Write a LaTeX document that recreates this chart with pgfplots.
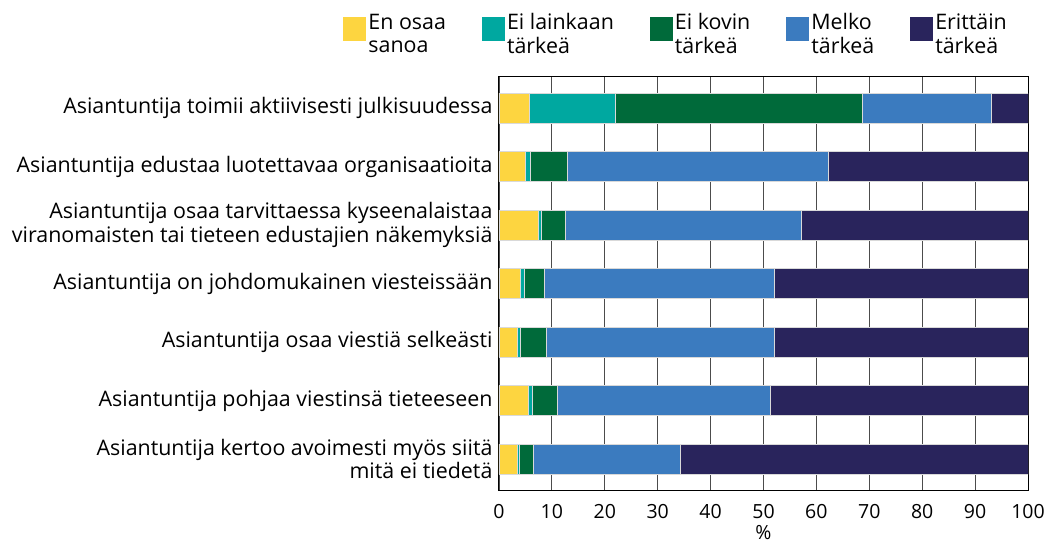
\documentclass[border=0pt]{standalone}
\usepackage{fontspec}
\setmainfont{Open Sans}
\usepackage{pgfplots}
\pgfplotsset{compat=1.18}
\definecolor{cyel}{HTML}{FDD540}
\definecolor{cteal}{HTML}{00A8A0}
\definecolor{cgreen}{HTML}{006A3A}
\definecolor{cblue}{HTML}{3B7BBF}
\definecolor{cnavy}{HTML}{29245C}
\def\lblfont{\fontsize{21.4}{23.5}\selectfont}
\def\tckfont{\fontsize{19.5}{22}\selectfont}
\def\legfont{\fontsize{21.4}{23.5}\selectfont}

\begin{document}
\begin{tikzpicture}
\begin{axis}[
  name=ax,
  scale only axis, width=529pt, height=413pt,
  xbar stacked, bar width=30pt,
  xmin=0, xmax=100, ymin=0.47, ymax=7.53, y dir=reverse,
  xtick={0,10,...,100}, ytick={1,...,7},
  yticklabels={%
    {Asiantuntija toimii aktiivisesti julkisuudessa},%
    {Asiantuntija edustaa luotettavaa organisaatioita},%
    {Asiantuntija osaa tarvittaessa kyseenalaistaa\\viranomaisten tai tieteen edustajien näkemyksiä},%
    {Asiantuntija on johdomukainen viesteissään},%
    {Asiantuntija osaa viestiä selkeästi},%
    {Asiantuntija pohjaa viestinsä tieteeseen},%
    {Asiantuntija kertoo avoimesti myös siitä\\mitä ei tiedetä}},
  yticklabel style={align=right, font=\lblfont, xshift=-3pt},
  xticklabel style={font=\tckfont, yshift=-11pt},
  /pgf/number format/assume math mode=true,
  major tick length=0pt,
  xmajorgrids, grid style={black!70, line width=0.8pt},
  axis line style={line width=1pt},
  xlabel={\%}, xlabel style={font=\tckfont, yshift=0pt},
  legend columns=5,
  legend cell align=left,
  legend style={at={(-0.30,1)}, anchor=south west, yshift=18pt, draw=none, fill=none,
    font=\legfont, cells={align=left},
    /tikz/every even column/.append style={column sep=34pt}},
  legend image code/.code={\filldraw[#1, draw=none] (0pt,-7pt) rectangle (23pt,17pt);},
  every axis plot/.append style={draw=white!85!black, line width=0.6pt},
]
\addplot[fill=cyel] coordinates {(5.8,1) (4.9,2) (7.4,3) (4.0,4) (3.4,5) (5.5,6) (3.4,7)};
\addplot[fill=cteal] coordinates {(16.1,1) (1.1,2) (0.6,3) (0.7,4) (0.6,5) (0.8,6) (0.5,7)};
\addplot[fill=cgreen] coordinates {(46.8,1) (7.0,2) (4.6,3) (3.8,4) (4.9,5) (4.7,6) (2.5,7)};
\addplot[fill=cblue] coordinates {(24.3,1) (49.3,2) (44.5,3) (43.5,4) (43.2,5) (40.2,6) (27.9,7)};
\addplot[fill=cnavy] coordinates {(7.0,1) (37.7,2) (42.9,3) (48.0,4) (47.9,5) (48.8,6) (65.7,7)};
\legend{En osaa\\sanoa, Ei lainkaan\\tärkeä, Ei kovin\\tärkeä, Melko\\tärkeä, Erittäin\\tärkeä}
\end{axis}
\pgfresetboundingbox
\path ([shift={(-499pt,-54pt)}]ax.south west) rectangle ([shift={(18pt,77pt)}]ax.north east);
\end{tikzpicture}
\end{document}
